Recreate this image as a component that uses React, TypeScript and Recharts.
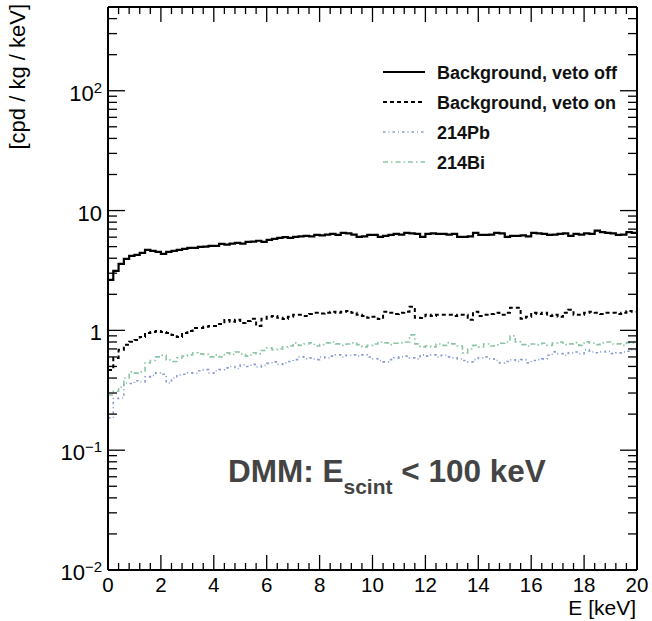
import { LineChart, Line, XAxis, YAxis, Legend, Customized } from 'recharts';

const FONT = '"Liberation Sans", Arial, Helvetica, sans-serif';

// 100 bins of 0.2 keV between 0 and 20 keV
const BIN_WIDTH = 0.2;
const N_BINS = 100;

// Background, veto off [cpd/kg/keV]
const VETO_OFF = [
  2.64, 3.14, 3.59, 3.95, 4.19, 4.27, 4.43, 4.7, 4.61, 4.52,
  4.35, 4.52, 4.61, 4.7, 4.79, 4.89, 4.89, 4.98, 5.0, 5.08,
  5.08, 5.28, 5.2, 5.3, 5.38, 5.3, 5.48, 5.5, 5.6, 5.48,
  5.7, 5.8, 5.92, 6.0, 5.92, 6.04, 6.1, 6.15, 6.1, 6.27,
  6.2, 6.3, 6.39, 6.27, 6.52, 6.45, 6.3, 6.04, 6.1, 6.27,
  6.27, 6.04, 6.15, 6.27, 6.39, 6.3, 6.52, 6.45, 6.39, 6.04,
  6.39, 6.45, 6.39, 6.39, 6.3, 6.39, 6.04, 6.04, 6.1, 6.52,
  6.27, 6.27, 6.3, 6.52, 6.45, 6.04, 6.15, 6.15, 6.2, 6.1,
  6.52, 6.45, 6.39, 6.27, 6.3, 6.39, 6.45, 6.15, 6.39, 6.3,
  6.45, 6.39, 6.8, 6.6, 6.52, 6.45, 6.27, 6.3, 6.6, 6.52,
];

// Background, veto on
const VETO_ON = [
  0.468, 0.589, 0.688, 0.757, 0.802, 0.833, 0.882, 0.953, 0.97, 0.99,
  0.97, 0.953, 0.917, 0.882, 0.953, 0.99, 1.049, 1.049, 1.07, 1.09,
  1.09, 1.133, 1.22, 1.18, 1.224, 1.15, 1.2, 1.25, 1.09, 1.25,
  1.3, 1.32, 1.272, 1.247, 1.3, 1.347, 1.347, 1.32, 1.37, 1.4,
  1.38, 1.4, 1.427, 1.4, 1.427, 1.45, 1.4, 1.347, 1.32, 1.272,
  1.3, 1.247, 1.427, 1.4, 1.37, 1.4, 1.427, 1.571, 1.272, 1.27,
  1.347, 1.32, 1.347, 1.347, 1.347, 1.32, 1.347, 1.347, 1.224, 1.427,
  1.32, 1.347, 1.37, 1.4, 1.35, 1.4, 1.541, 1.541, 1.25, 1.3,
  1.4, 1.37, 1.4, 1.321, 1.35, 1.3, 1.4, 1.483, 1.35, 1.347,
  1.4, 1.427, 1.4, 1.37, 1.4, 1.4, 1.37, 1.4, 1.45, 1.427,
];

// 214Pb
const PB214 = [
  0.186, 0.27, 0.273, 0.364, 0.36, 0.38, 0.371, 0.409, 0.42, 0.442,
  0.43, 0.364, 0.4, 0.425, 0.43, 0.442, 0.44, 0.46, 0.47, 0.44,
  0.46, 0.47, 0.486, 0.5, 0.48, 0.515, 0.5, 0.52, 0.496, 0.51,
  0.53, 0.546, 0.52, 0.535, 0.55, 0.57, 0.601, 0.58, 0.589, 0.57,
  0.6, 0.589, 0.61, 0.624, 0.6, 0.62, 0.624, 0.61, 0.624, 0.6,
  0.58, 0.56, 0.546, 0.57, 0.59, 0.601, 0.61, 0.59, 0.578, 0.624,
  0.61, 0.624, 0.6, 0.62, 0.601, 0.59, 0.578, 0.56, 0.546, 0.57,
  0.59, 0.601, 0.58, 0.56, 0.535, 0.55, 0.567, 0.55, 0.57, 0.535,
  0.56, 0.57, 0.578, 0.62, 0.661, 0.64, 0.62, 0.649, 0.66, 0.64,
  0.688, 0.66, 0.65, 0.661, 0.67, 0.64, 0.649, 0.66, 0.67, 0.688,
];

// 214Bi
const BI214 = [
  0.289, 0.31, 0.337, 0.4, 0.45, 0.44, 0.45, 0.535, 0.56, 0.601,
  0.62, 0.567, 0.55, 0.589, 0.61, 0.624, 0.65, 0.637, 0.63, 0.601,
  0.624, 0.6, 0.649, 0.63, 0.66, 0.637, 0.61, 0.65, 0.637, 0.68,
  0.714, 0.69, 0.7, 0.728, 0.74, 0.786, 0.75, 0.77, 0.786, 0.74,
  0.76, 0.786, 0.8, 0.771, 0.75, 0.77, 0.786, 0.76, 0.728, 0.75,
  0.77, 0.8, 0.786, 0.76, 0.78, 0.786, 0.8, 0.917, 0.771, 0.728,
  0.74, 0.728, 0.77, 0.75, 0.79, 0.771, 0.74, 0.649, 0.7, 0.75,
  0.728, 0.77, 0.74, 0.757, 0.78, 0.8, 0.9, 0.802, 0.76, 0.74,
  0.77, 0.757, 0.78, 0.75, 0.786, 0.8, 0.76, 0.771, 0.79, 0.75,
  0.802, 0.78, 0.76, 0.786, 0.8, 0.77, 0.771, 0.75, 0.79, 0.786,
];

const X_MAJOR = [0, 2, 4, 6, 8, 10, 12, 14, 16, 18, 20];
const Y_DECADES = [0.01, 0.1, 1, 10, 100];
const Y_LABELS = [
  { base: '10', exp: '−2' },
  { base: '10', exp: '−1' },
  { base: '1', exp: '' },
  { base: '10', exp: '' },
  { base: '10', exp: '2' },
];

const LEGEND = [
  { name: 'Background, veto off', color: '#000', dash: undefined, width: 2 },
  { name: 'Background, veto on', color: '#000', dash: '4 3', width: 2 },
  { name: '214Pb', color: '#8a9bd3', dash: '2.5 3 1 3', width: 1.6 },
  { name: '214Bi', color: '#8cc4a6', dash: '5 3 1.5 3', width: 1.6 },
];

// histogram edges; last edge repeats the last bin so the step closes at 20 keV
const data = Array.from({ length: N_BINS + 1 }, (_, i) => {
  const k = Math.min(i, N_BINS - 1);
  return {
    e: +(i * BIN_WIDTH).toFixed(1),
    off: VETO_OFF[k],
    on: VETO_ON[k],
    pb: PB214[k],
    bi: BI214[k],
  };
});

const xTicks = Array.from({ length: 51 }, (_, i) => +(i * 0.4).toFixed(1));
const yTicks: number[] = [];
Y_DECADES.forEach((d) => {
  for (let m = 1; m <= 9; m++) {
    const v = +(d * m).toPrecision(3);
    if (v <= 500) yTicks.push(v);
  }
});

const isMajorX = (v: number) => X_MAJOR.includes(v);
const isMajorY = (v: number) => Y_DECADES.includes(v);

function BottomTick({ x, y, payload }: any) {
  const major = isMajorX(payload.value);
  return (
    <g>
      <line x1={x} y1={y} x2={x} y2={y - (major ? 15 : 7)} stroke="#000" strokeWidth={1.3} />
      {major && (
        <text x={x} y={592} textAnchor="middle" fontSize={20.5} fontFamily={FONT} fill="#000">
          {payload.value}
        </text>
      )}
    </g>
  );
}

function TopTick({ x, y, payload }: any) {
  const major = isMajorX(payload.value);
  return <line x1={x} y1={y} x2={x} y2={y + (major ? 15 : 7)} stroke="#000" strokeWidth={1.3} />;
}

function LeftTick({ x, y, payload }: any) {
  const major = isMajorY(payload.value);
  const idx = Y_DECADES.indexOf(payload.value);
  const lab = idx >= 0 ? Y_LABELS[idx] : null;
  return (
    <g>
      <line x1={x} y1={y} x2={x + (major ? 17 : 9)} y2={y} stroke="#000" strokeWidth={1.3} />
      {lab && (
        <text x={x - 6} y={y + 10} textAnchor="end" fontSize={22} fontFamily={FONT} fill="#000">
          {lab.base}
          {lab.exp && (
            <tspan fontSize={15} dy={-8}>
              {lab.exp}
            </tspan>
          )}
        </text>
      )}
    </g>
  );
}

function RightTick({ x, y, payload }: any) {
  const major = isMajorY(payload.value);
  return <line x1={x} y1={y} x2={x - (major ? 17 : 9)} y2={y} stroke="#000" strokeWidth={1.3} />;
}

function LegendBox() {
  return (
    <svg width={270} height={120} style={{ overflow: 'visible' }}>
      {LEGEND.map((l, i) => {
        const cy = 14 + i * 30;
        return (
          <g key={l.name}>
            <line x1={7} y1={cy} x2={49} y2={cy} stroke={l.color} strokeWidth={l.width} strokeDasharray={l.dash} />
            <text x={61} y={cy + 6.5} fontSize={18} fontWeight="bold" fontFamily={FONT} fill="#111">
              {l.name}
            </text>
          </g>
        );
      })}
    </svg>
  );
}

function Titles() {
  return (
    <g fontFamily={FONT}>
      <text transform="translate(25,4) rotate(-90)" textAnchor="end" fontSize={22} fill="#000">
        [cpd / kg / keV]
      </text>
      <text x={636} y={615} textAnchor="end" fontSize={21} fill="#000">
        E [keV]
      </text>
      <text x={228} y={482} fontSize={31.5} fontWeight="bold" fill="#444">
        DMM: E
        <tspan fontSize={21} dy={12}>scint</tspan>
        <tspan dy={-12}> &lt; 100 keV</tspan>
      </text>
    </g>
  );
}

export default function App() {
  const axisLine = { stroke: '#000', strokeWidth: 2 };
  return (
    <div style={{ position: 'absolute', left: 0, top: 0, width: 652, height: 621, background: '#fff' }}>
      <LineChart width={652} height={621} data={data} margin={{ top: 6, right: 14, bottom: 50, left: 107 }}>
        <XAxis
          dataKey="e"
          type="number"
          domain={[0, 20]}
          allowDataOverflow
          ticks={xTicks}
          interval={0}
          height={1}
          tickSize={0}
          tickMargin={0}
          tickLine={false}
          axisLine={axisLine}
          tick={<BottomTick />}
        />
        <XAxis
          xAxisId="top"
          orientation="top"
          dataKey="e"
          type="number"
          domain={[0, 20]}
          allowDataOverflow
          ticks={xTicks}
          interval={0}
          height={1}
          tickSize={0}
          tickMargin={0}
          tickLine={false}
          axisLine={axisLine}
          tick={<TopTick />}
        />
        <YAxis
          scale="log"
          type="number"
          domain={[0.01, 500]}
          allowDataOverflow
          ticks={yTicks}
          interval={0}
          width={1}
          tickSize={0}
          tickMargin={0}
          tickLine={false}
          axisLine={axisLine}
          tick={<LeftTick />}
        />
        <YAxis
          yAxisId="right"
          orientation="right"
          scale="log"
          type="number"
          domain={[0.01, 500]}
          allowDataOverflow
          ticks={yTicks}
          interval={0}
          width={1}
          tickSize={0}
          tickMargin={0}
          tickLine={false}
          axisLine={axisLine}
          tick={<RightTick />}
        />
        <Line dataKey="pb" type="stepAfter" stroke={LEGEND[2].color} strokeWidth={1.6} strokeDasharray={LEGEND[2].dash} dot={false} isAnimationActive={false} />
        <Line dataKey="bi" type="stepAfter" stroke={LEGEND[3].color} strokeWidth={1.6} strokeDasharray={LEGEND[3].dash} dot={false} isAnimationActive={false} />
        <Line dataKey="on" type="stepAfter" stroke="#000" strokeWidth={2} strokeDasharray="4 3" dot={false} isAnimationActive={false} />
        <Line dataKey="off" type="stepAfter" stroke="#000" strokeWidth={2.2} dot={false} isAnimationActive={false} />
        <Legend
          layout="horizontal"
          verticalAlign="middle"
          align="center"
          wrapperStyle={{ left: 376, top: 58, width: 270, height: 120 }}
          content={() => <LegendBox />}
        />
        <Customized component={<Titles />} />
      </LineChart>
    </div>
  );
}
